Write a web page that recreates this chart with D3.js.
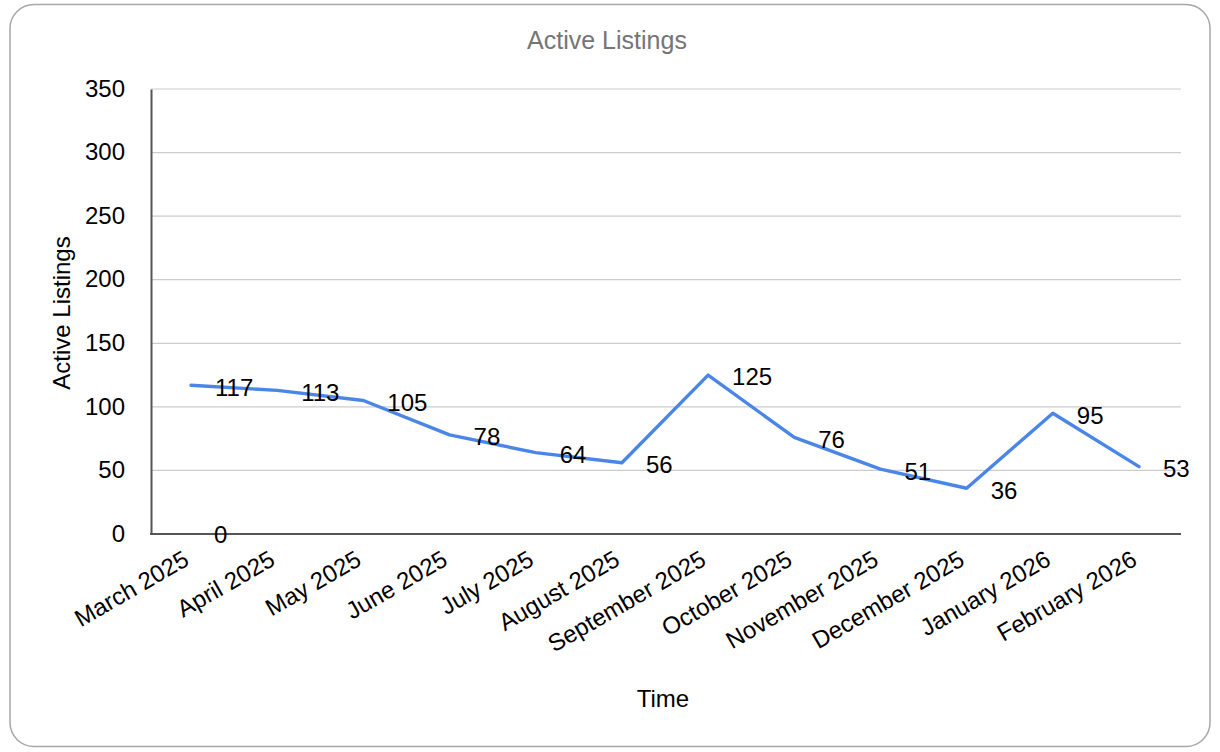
<!DOCTYPE html>
<html>
<head>
<meta charset="utf-8">
<script src="https://cdn.jsdelivr.net/npm/d3@7"></script>
<style>
  html, body { margin: 0; padding: 0; background: #ffffff; }
  svg { display: block; font-family: "Liberation Sans", Arial, sans-serif; }
</style>
</head>
<body>
<svg id="chart" width="1220" height="752"></svg>
<script>
const months = ["March 2025", "April 2025", "May 2025", "June 2025", "July 2025", "August 2025",
  "September 2025", "October 2025", "November 2025", "December 2025", "January 2026", "February 2026"];
const activeListings = [117, 113, 105, 78, 64, 56, 125, 76, 51, 36, 95, 53];
const zeroSeriesMonths = ["March 2025"];
const zeroSeriesValues = [0];
const yTicks = [0, 50, 100, 150, 200, 250, 300, 350];
const chartTitle = "Active Listings";
const yTitle = "Active Listings";
const xTitle = "Time";

const svg = d3.select("#chart");

// frame
svg.append("rect").attr("x", 10).attr("y", 4.5).attr("width", 1200).attr("height", 742)
  .attr("rx", 24).attr("ry", 24).attr("fill", "#fff").attr("stroke", "#a8a8a8").attr("stroke-width", 1.5);

const plot = { left: 151, right: 1181, top: 89, bottom: 534 };
const x = d3.scalePoint().domain(months).range([191, 1139]);
const y = d3.scaleLinear().domain([0, 350]).range([plot.bottom, plot.top]);

// gridlines
svg.append("g").selectAll("line").data(yTicks.filter(d => d > 0)).join("line")
  .attr("x1", plot.left).attr("x2", plot.right)
  .attr("y1", d => y(d)).attr("y2", d => y(d))
  .attr("stroke", "#cccccc").attr("stroke-width", 1.2);

// y axis
const yAxis = svg.append("g").attr("transform", `translate(${plot.left},0)`)
  .call(d3.axisLeft(y).tickValues(yTicks).tickSize(0).tickPadding(26));
yAxis.select(".domain").attr("stroke", "#555").attr("stroke-width", 2);
yAxis.selectAll("text").attr("font-size", 24).attr("fill", "#000")
  .attr("font-family", "Liberation Sans, Arial, sans-serif").attr("dy", "0.3em");

// x axis
const xAxis = svg.append("g").attr("transform", `translate(0,${plot.bottom})`)
  .call(d3.axisBottom(x).tickSize(0).tickPadding(0));
xAxis.select(".domain").remove();
xAxis.selectAll("text")
  .attr("font-size", 24).attr("fill", "#000")
  .attr("font-family", "Liberation Sans, Arial, sans-serif")
  .attr("text-anchor", "end")
  .attr("dy", 0)
  .attr("transform", "translate(-1,30) rotate(-30)");
svg.append("line").attr("x1", plot.left - 1).attr("x2", plot.right)
  .attr("y1", plot.bottom).attr("y2", plot.bottom).attr("stroke", "#555").attr("stroke-width", 2);

// line
const line = d3.line().x((d, i) => x(months[i])).y(d => y(d));
svg.append("path").datum(activeListings).attr("d", line)
  .attr("fill", "none").attr("stroke", "#4a86e8").attr("stroke-width", 3.4)
  .attr("stroke-linejoin", "round").attr("stroke-linecap", "round");

// data labels
svg.append("g").selectAll("text").data(activeListings).join("text")
  .attr("x", (d, i) => x(months[i]) + 24)
  .attr("y", d => y(d) + 2)
  .attr("dy", "0.35em")
  .attr("font-size", 24).attr("fill", "#000")
  .text(d => d);

svg.append("g").selectAll("text").data(zeroSeriesValues).join("text")
  .attr("x", (d, i) => x(zeroSeriesMonths[i]) + 23)
  .attr("y", d => y(d) + 1)
  .attr("dy", "0.35em")
  .attr("font-size", 24).attr("fill", "#000")
  .text(d => d);

// titles
svg.append("text").attr("x", 607).attr("y", 49).attr("text-anchor", "middle")
  .attr("font-size", 25).attr("fill", "#757575").text(chartTitle);
svg.append("text").attr("transform", "translate(70,313) rotate(-90)").attr("text-anchor", "middle")
  .attr("font-size", 24).attr("fill", "#000").text(yTitle);
svg.append("text").attr("x", 663).attr("y", 707).attr("text-anchor", "middle")
  .attr("font-size", 24).attr("fill", "#000").text(xTitle);
</script>
</body>
</html>
